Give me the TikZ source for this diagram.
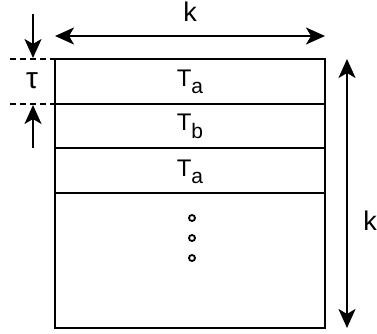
\documentclass[tikz,border=0pt]{standalone}
\usepackage{fontspec}
\setmainfont{Liberation Sans}
\usetikzlibrary{arrows.meta}
\begin{document}
\begin{tikzpicture}[x=1pt,y=-1pt,
  box/.style={draw=black,line width=2pt},
  sep/.style={draw=black,line width=2pt},
  tip/.tip={Stealth[length=19pt,width=17pt,inset=5pt]},
  dim/.style={line width=2.2pt,-tip},
  dimboth/.style={line width=2.2pt,tip-tip},
  guide/.style={line width=1.5pt,dash pattern=on 6pt off 4pt},
  lab/.style={font=\fontsize{24}{28}\selectfont,inner sep=0pt},
  klab/.style={font=\fontsize{27}{30}\selectfont,inner sep=0pt},
  dotc/.style={circle,draw=black,line width=1.8pt,minimum size=6pt,inner sep=0pt}]
\useasboundingbox (0,0) rectangle (377,334);
\coordinate (tl) at (55,59);
\coordinate (br) at (325,328);
\draw[box] (tl) rectangle (br);
\coordinate (l1) at (55,104); \coordinate (r1) at (325,104);
\coordinate (l2) at (55,148); \coordinate (r2) at (325,148);
\coordinate (l3) at (55,193); \coordinate (r3) at (325,193);
\draw[sep] (l1) -- (r1);
\draw[sep] (l2) -- (r2);
\draw[sep] (l3) -- (r3);
\node[lab,anchor=base] (ta1) at (190,87) {T\raisebox{-7pt}{\fontsize{21}{24}\selectfont a}};
\node[lab,anchor=base] (tb) at (190,131) {T\raisebox{-7pt}{\fontsize{21}{24}\selectfont b}};
\node[lab,anchor=base] (ta2) at (190,176) {T\raisebox{-7pt}{\fontsize{21}{24}\selectfont a}};
\node[dotc] (d1) at (192,218) {};
\node[dotc] (d2) at (192,238) {};
\node[dotc] (d3) at (192,258) {};
% top dimension
\coordinate (ta) at (55,36); \coordinate (tb2) at (325,36);
\draw[dimboth] (ta) -- (tb2);
\node[klab,anchor=base] (ktop) at (190,22) {k};
% right dimension
\coordinate (ra) at (347,59); \coordinate (rb) at (347,328);
\draw[dimboth] (ra) -- (rb);
\node[klab,anchor=base] (kright) at (370,230) {k};
% tau
\coordinate (g1a) at (10,59); \coordinate (g1b) at (55,59);
\coordinate (g2a) at (10,104); \coordinate (g2b) at (55,104);
\draw[guide] (g1a) -- (g1b);
\draw[guide] (g2a) -- (g2b);
\coordinate (au) at (33,14); \coordinate (ad) at (33,58);
\coordinate (bu) at (33,148); \coordinate (bd) at (33,105);
\draw[dim] (au) -- (ad);
\draw[dim] (bu) -- (bd);
\node[lab,font=\fontsize{30}{32}\selectfont,anchor=base] (tau) at (32,89) {τ};
\end{tikzpicture}
\end{document}
